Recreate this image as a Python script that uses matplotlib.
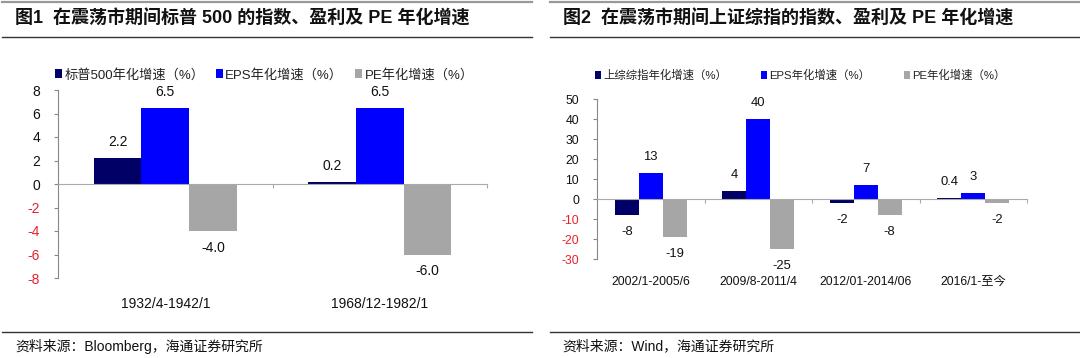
import matplotlib
matplotlib.use("Agg")
import matplotlib.pyplot as plt
from matplotlib.lines import Line2D
import numpy as np

plt.rcParams['font.family'] = ['Liberation Sans', 'Noto Sans CJK SC', 'DejaVu Sans']

# ---------------- data ----------------
left_title = "图1  在震荡市期间标普 500 的指数、盈利及 PE 年化增速"
right_title = "图2  在震荡市期间上证综指的指数、盈利及 PE 年化增速"
left_source = "资料来源：Bloomberg，海通证券研究所"
right_source = "资料来源：Wind，海通证券研究所"

left_categories = ["1932/4-1942/1", "1968/12-1982/1"]
left_series_names = ["标普500年化增速（%）", "EPS年化增速（%）", "PE年化增速（%）"]
left_index = [2.2, 0.2]
left_eps = [6.5, 6.5]
left_pe = [-4.0, -6.0]
left_labels = [["2.2", "0.2"], ["6.5", "6.5"], ["-4.0", "-6.0"]]
left_yticks = [8, 6, 4, 2, 0, -2, -4, -6, -8]

right_categories = ["2002/1-2005/6", "2009/8-2011/4", "2012/01-2014/06", "2016/1-至今"]
right_series_names = ["上综综指年化增速（%）", "EPS年化增速（%）", "PE年化增速（%）"]
right_index = [-8, 4, -2, 0.4]
right_eps = [13, 40, 7, 3]
right_pe = [-19, -25, -8, -2]
right_labels = [["-8", "4", "-2", "0.4"], ["13", "40", "7", "3"], ["-19", "-25", "-8", "-2"]]
right_yticks = [50, 40, 30, 20, 10, 0, -10, -20, -30]

colors = ["#000066", "#0000FF", "#A6A6A6"]

W, H = 1080, 358
fig = plt.figure(figsize=(W / 100, H / 100), dpi=100)


def px_axes(x0, x1, ytop, ybot):
    return fig.add_axes([x0 / W, 1 - ybot / H, (x1 - x0) / W, (ybot - ytop) / H])


def draw_panel(ax, cats, series, labels, names, yticks, ylim, cat_label_y, legend_anchor,
               colspacing, fs, legfs, valfs):
    n = len(cats)
    x = np.arange(n)
    bw = 0.222
    handles = []
    for i, (vals, col) in enumerate(zip(series, colors)):
        pos = x + (i - 1) * bw
        b = ax.bar(pos, vals, width=bw, color=col, edgecolor="none", zorder=2, label=names[i])
        handles.append(b)
        for p, v, lab in zip(pos, vals, labels[i]):
            off = 11.5 if v >= 0 else -12
            ax.annotate(lab, (p, v), xytext=(0, off), textcoords="offset points",
                        ha="center", va="center", fontsize=valfs, color="#111111")
    ax.set_xlim(-0.5, n - 0.5)
    ax.set_ylim(*ylim)
    ax.set_yticks(yticks)
    ax.set_yticklabels([str(t) for t in yticks])
    for t, lab in zip(yticks, ax.get_yticklabels()):
        lab.set_color("#E8202A" if t < 0 else "#111111")
        lab.set_fontsize(fs)
    ax.tick_params(axis="y", direction="out", length=3, color="#888888", pad=10)
    for s in ["top", "right"]:
        ax.spines[s].set_visible(False)
    ax.spines["left"].set_color("#888888")
    ax.spines["bottom"].set_position(("data", 0))
    ax.spines["bottom"].set_color("#AAAAAA")
    ax.set_xticks(np.arange(1, n + 1) - 0.5)
    ax.set_xticklabels([])
    ax.tick_params(axis="x", direction="out", length=3, color="#AAAAAA")
    for xi, c in zip(x, cats):
        ax.text(xi, cat_label_y, c, transform=ax.get_xaxis_transform(), ha="center",
                va="center", fontsize=fs, color="#111111")
    ax.patch.set_alpha(0)
    leg = fig.legend(handles=handles, loc="center left", bbox_to_anchor=legend_anchor,
                     ncol=3, frameon=False, handlelength=0.55, handleheight=0.7,
                     handletextpad=0.15, columnspacing=colspacing, fontsize=legfs,
                     borderaxespad=0, borderpad=0)
    for t in leg.get_texts():
        t.set_color("#222222")


axL = px_axes(58, 487, 90, 278)
draw_panel(axL, left_categories, [left_index, left_eps, left_pe], left_labels,
           left_series_names, left_yticks, (-8, 8), -0.138,
           (55 / W, 1 - 75 / H), 0.9, 10, 9.5, 10)

axR = px_axes(597, 1027, 99, 259)
draw_panel(axR, right_categories, [right_index, right_eps, right_pe], right_labels,
           right_series_names, right_yticks, (-30, 50), -0.144,
           (595 / W, 1 - 75 / H), 3.0, 8.8, 8.2, 9.4)

# titles and sources
fig.text(15 / W, 1 - 19 / H, left_title, fontsize=13, fontweight="bold", va="center", ha="left", color="#111111")
fig.text(563 / W, 1 - 19 / H, right_title, fontsize=13, fontweight="bold", va="center", ha="left", color="#111111")
fig.text(15 / W, 1 - 346 / H, left_source, fontsize=10, va="center", ha="left", color="#111111")
fig.text(562 / W, 1 - 346 / H, right_source, fontsize=10, va="center", ha="left", color="#111111")

# decorative rules
for (xa, xb) in [(2, 532), (550, 1080)]:
    fig.add_artist(Line2D([xa / W, xb / W], [1 - 2 / H, 1 - 2 / H], color="#999999", lw=1.6))
    fig.add_artist(Line2D([xa / W, xb / W], [1 - 37 / H, 1 - 37 / H], color="#333333", lw=1.0))
    fig.add_artist(Line2D([xa / W, xb / W], [1 - 332 / H, 1 - 332 / H], color="#333333", lw=1.0))

fig.savefig("out.png", dpi=100)
